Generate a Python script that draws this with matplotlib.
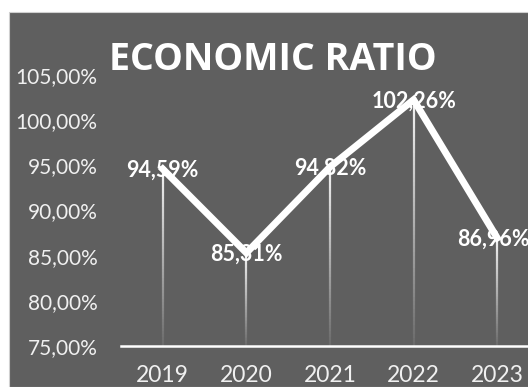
import matplotlib
matplotlib.use("Agg")
import matplotlib.pyplot as plt
import numpy as np
from matplotlib.patches import Rectangle
from matplotlib.collections import LineCollection

years = ["2019", "2020", "2021", "2022", "2023"]
ratios = [94.59, 85.31, 94.82, 102.26, 86.96]
value_labels = ["94,59%", "85,31%", "94,82%", "102,26%", "86,96%"]
y_ticks = [75, 80, 85, 90, 95, 100, 105]
y_tick_labels = ["75,00%", "80,00%", "85,00%", "90,00%", "95,00%", "100,00%", "105,00%"]
title = "ECONOMIC RATIO"

W, H = 528, 387
fig = plt.figure(figsize=(W / 100, H / 100), dpi=100)
fig.patch.set_facecolor("white")
bg = "#5f5f5f"
fig.patches.append(Rectangle((9 / W, 0), 1, 1 - 12 / H, transform=fig.transFigure,
                             facecolor=bg, edgecolor="#d0d0d0", linewidth=0.8, zorder=-10))

ax = fig.add_axes([121 / W, 1 - 346 / H, 418 / W, (346 - 75) / H])
ax.set_facecolor("none")
ax.set_zorder(5)
x = np.arange(len(years))

# drop lines with vertical gradient
for xi, v in zip(x, ratios):
    n = 60
    ys = np.linspace(75, v, n + 1)
    segs = [[(xi, ys[k]), (xi, ys[k + 1])] for k in range(n)]
    t = np.linspace(0, 1, n)
    c0 = np.array([0.42, 0.42, 0.42])
    c1 = np.array([0.95, 0.95, 0.95])
    cols = [tuple(c0 + (c1 - c0) * tt) for tt in t]
    ax.add_collection(LineCollection(segs, colors=cols, linewidths=1.6, zorder=2))

ax.plot(x, ratios, color="white", linewidth=5, solid_joinstyle="miter", zorder=3)

for i, (xi, v, lab) in enumerate(zip(x, ratios, value_labels)):
    dx = -3 if i == len(x) - 1 else 0
    ax.annotate(lab, (xi, v), xytext=(dx, -1), textcoords="offset points",
                ha="center", va="center", color="white", fontsize=15.5,
                fontweight="bold", family="Lato", zorder=4)

ax.set_xlim(-0.5, len(years) - 0.5)
ax.set_ylim(75, 105)
ax.set_xticks(x)
ax.set_xticklabels(years, fontsize=16.5, color="#f0f0f0", family="Lato")
ax.set_yticks(y_ticks)
ax.set_yticklabels(y_tick_labels, fontsize=15, color="#f0f0f0", family="Lato")
ax.tick_params(axis="both", length=0)
ax.tick_params(axis="y", pad=17)
ax.tick_params(axis="x", pad=14)
for s in ["top", "right", "left"]:
    ax.spines[s].set_visible(False)
ax.spines["bottom"].set_color("white")
ax.spines["bottom"].set_linewidth(1.8)
ax.spines["bottom"].set_zorder(5)

fig.text(273 / W, 1 - 60 / H, title, ha="center", va="center", color="white",
         fontsize=27, fontweight="bold", family="Open Sans", zorder=6)

fig.savefig("out.png", dpi=100)
